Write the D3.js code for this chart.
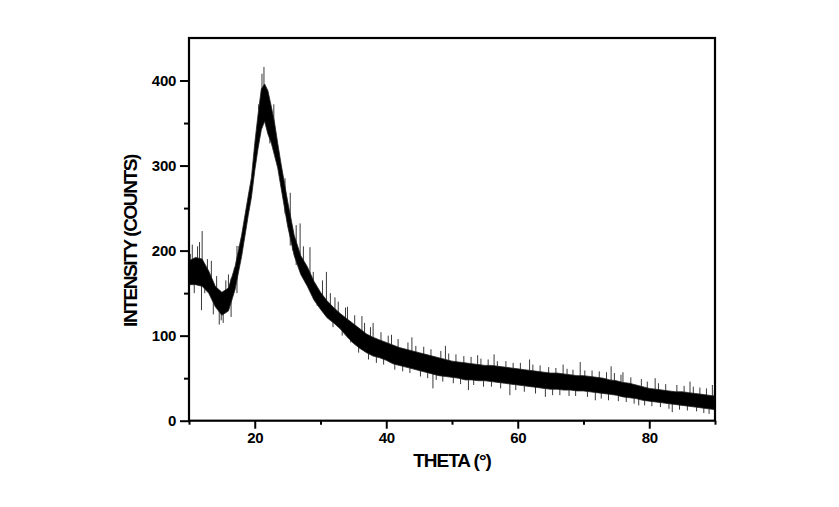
<!DOCTYPE html>
<html lang="en">
<head>
<meta charset="UTF-8">
<title>Intensity vs theta</title>
<script src="https://d3js.org/d3.v7.min.js"></script>
<style>
  body { margin: 0; background: #fff; }
  text { font-family: "Liberation Sans", Arial, sans-serif; font-weight: bold; fill: #000; }
</style>
</head>
<body>
<div id="chart"></div>
<script>
// band of the noisy trace (low / high edge of the dense part)
var theta    = [10, 11, 12, 13, 14, 15, 16, 17, 18, 19, 19.5, 20, 20.5, 21, 21.5, 22, 22.5, 23, 23.5, 24, 25, 26, 27, 28, 29, 30,
                31, 32, 33, 34, 35, 36, 37, 38, 39, 40, 41, 42, 43, 44, 45, 46, 47, 48, 49, 50, 51, 52, 53, 54, 55, 56, 57, 58, 59, 60,
                61, 62, 63, 64, 65, 66, 67, 68, 69, 70, 71, 72, 73, 74, 75, 76, 77, 78, 79, 80, 81, 82, 83, 84, 85, 86, 87, 88, 89, 90];
var bandLow  = [160, 160, 158, 150, 134, 124, 129, 154, 193, 241, 263, 294, 320, 342, 352, 337, 327, 312, 297, 274, 229, 194, 172, 158, 142, 131,
                121, 115, 108, 99, 91, 85, 80, 76, 74, 71, 67, 65, 63, 61, 59, 57, 55, 53, 52, 51, 50, 48, 48, 47, 47, 46, 45, 44, 43, 42,
                41, 40, 39, 38, 37, 37, 36, 36, 35, 35, 34, 33, 32, 31, 30, 28, 27, 26, 24, 23, 22, 21, 20, 19, 18, 17, 16, 15, 14, 13];
var bandHigh = [188, 192, 190, 176, 158, 151, 156, 181, 218, 264, 286, 326, 360, 390, 396, 388, 370, 351, 326, 302, 258, 218, 194, 181, 164, 151,
                141, 133, 126, 120, 114, 108, 102, 98, 95, 92, 89, 86, 84, 82, 80, 78, 76, 74, 72, 70, 69, 68, 67, 66, 65, 65, 64, 63, 62, 61,
                60, 59, 58, 57, 56, 56, 55, 54, 53, 53, 52, 51, 50, 48, 47, 45, 44, 42, 40, 38, 37, 36, 35, 34, 34, 33, 32, 31, 30, 29];

// single spikes standing out of the band
var spikeTheta = [10.5, 11.3, 12.0, 11.9, 13.4, 14.6, 15.2, 16.0, 17.6, 20.6, 21.4, 21.1, 22.3, 22.9, 24.6, 26.9, 28.4, 30.9, 32.2,
                  34.1, 36.3, 38.0, 40.8, 43.9, 47.1, 49.0, 52.5, 53.9, 56.4, 58.8, 61.8, 64.2, 66.9, 69.5, 71.8, 74.2, 76.0, 78.4,
                  80.9, 83.5, 86.2, 88.3, 89.6,
                  10.2, 10.8, 11.6, 12.4, 12.8, 13.7, 14.2, 14.9, 15.6, 16.4, 16.9, 17.3,
                  25.4, 25.8, 26.3, 27.4, 27.8, 28.9, 29.5, 30.3, 31.5, 31.9, 32.7, 33.3, 33.8, 34.6, 35.2, 35.8, 36.7, 37.3, 37.6,
                  38.5, 39.2, 39.6, 40.3, 41.3, 41.8, 42.5, 43.3, 43.6, 44.5, 45.2, 45.7, 46.3, 46.8, 47.6, 48.3, 48.6, 49.5, 50.2,
                  50.6, 51.3, 51.8, 52.9, 53.3, 54.4, 54.8, 55.5, 56.0, 56.9, 57.4, 58.2, 59.3, 59.7, 60.4, 61.0, 62.3, 62.7, 63.4,
                  64.7, 65.3, 65.8, 66.4, 67.5, 67.8, 68.4, 68.8, 70.2, 70.6, 71.3, 72.4, 72.7, 73.5, 73.8, 74.7, 75.3, 75.7, 76.5,
                  77.2, 77.7, 78.8, 79.3, 79.7, 80.4, 81.4, 81.7, 82.5, 83.0, 84.2, 84.6, 85.3, 85.8, 86.7, 87.2, 87.7, 88.7, 89.1, 89.9];
var spikeValue = [207, 205, 223, 130, 188, 113, 115, 172, 203, 372, 416, 408, 326, 372, 285, 232, 204, 175, 145,
                  134, 123, 115, 101, 98, 38, 88, 36, 77, 78, 30, 72, 28, 66, 69, 24, 64, 57, 18,
                  50, 10, 46, 9, 42,
                  196, 150, 210, 150, 190, 125, 170, 118, 165, 122, 180, 150,
                  268, 200, 230, 205, 162, 175, 135, 165, 150, 110, 140, 100, 133, 92, 124, 80, 115, 72, 110,
                  68, 104, 66, 100, 60, 96, 58, 92, 56, 88, 52, 87, 50, 84, 48, 82, 46, 79, 44,
                  78, 43, 76, 75, 42, 73, 40, 72, 40, 70, 38, 70, 68, 36, 68, 34, 66, 32, 65,
                  63, 30, 62, 30, 61, 29, 60, 29, 59, 28, 59, 58, 26, 57, 24, 56, 23, 54, 22,
                  51, 20, 49, 18, 46, 17, 44, 16, 43, 14, 42, 13, 41, 12, 40, 11, 39, 38, 8, 36];

var xTicks = [20, 40, 60, 80];
var xMinor = [10, 30, 50, 70, 90];
var yTicks = [0, 100, 200, 300, 400];
var yMinor = [50, 150, 250, 350];

var width = 839, height = 507;
var plotLeft = 189, plotRight = 715, plotTop = 38, plotBottom = 420.7;

var svg = d3.select("#chart").append("svg")
    .attr("width", width)
    .attr("height", height);

var x = d3.scaleLinear().domain([10, 90]).range([plotLeft, plotRight]);
var y = d3.scaleLinear().domain([0, 450]).range([plotBottom, plotTop]);

var rows = theta.map(function(t, i) { return {t: t, lo: bandLow[i], hi: bandHigh[i]}; });

// clip to the frame
svg.append("clipPath").attr("id", "plotClip")
  .append("rect").attr("x", plotLeft).attr("y", plotTop)
  .attr("width", plotRight - plotLeft).attr("height", plotBottom - plotTop);

var plot = svg.append("g").attr("clip-path", "url(#plotClip)");

// spikes, drawn from the middle of the band
var bis = d3.bisector(function(d) { return d.t; }).left;
spikeTheta.forEach(function(t, i) {
  var j = Math.min(bis(rows, t), rows.length - 1);
  var mid = (rows[j].lo + rows[j].hi) / 2;
  plot.append("line")
    .attr("x1", x(t)).attr("x2", x(t))
    .attr("y1", y(mid)).attr("y2", y(spikeValue[i]))
    .attr("stroke", "#3a3a3a")
    .attr("stroke-width", 1);
});

plot.append("path")
  .datum(rows)
  .attr("d", d3.area()
    .x(function(d) { return x(d.t); })
    .y0(function(d) { return y(d.lo); })
    .y1(function(d) { return y(d.hi); }))
  .attr("fill", "#000")
  .attr("stroke", "#222")
  .attr("stroke-width", 0.8);

// frame
svg.append("rect")
  .attr("x", plotLeft).attr("y", plotTop)
  .attr("width", plotRight - plotLeft).attr("height", plotBottom - plotTop)
  .attr("fill", "none").attr("stroke", "#000").attr("stroke-width", 2.2);

// x axis
svg.append("g").attr("transform", "translate(0," + plotBottom + ")")
  .call(d3.axisBottom(x).tickValues(xTicks).tickSize(8).tickPadding(4).tickFormat(d3.format("d")));
svg.append("g").attr("transform", "translate(0," + plotBottom + ")")
  .call(d3.axisBottom(x).tickValues(xMinor).tickSize(4).tickFormat(""));

// y axis
svg.append("g").attr("transform", "translate(" + plotLeft + ",0)")
  .call(d3.axisLeft(y).tickValues(yTicks).tickSize(9).tickPadding(4).tickFormat(d3.format("d")));
svg.append("g").attr("transform", "translate(" + plotLeft + ",0)")
  .call(d3.axisLeft(y).tickValues(yMinor).tickSize(5).tickFormat(""));

svg.selectAll(".domain").remove();
svg.selectAll(".tick line").attr("stroke", "#000").attr("stroke-width", 2);
svg.selectAll(".tick text")
  .attr("font-size", 15)
  .attr("font-family", "'Liberation Sans', Arial, sans-serif")
  .attr("font-weight", "bold")
  .attr("letter-spacing", "-0.3px")
  .attr("fill", "#000");

// axis titles
svg.append("text")
  .attr("x", (plotLeft + plotRight) / 2)
  .attr("y", 466.5)
  .attr("text-anchor", "middle")
  .attr("font-size", 19)
  .attr("letter-spacing", "-1px")
  .text("THETA (°)");

svg.append("text")
  .attr("transform", "translate(137,241) rotate(-90)")
  .attr("text-anchor", "middle")
  .attr("font-size", 19)
  .attr("letter-spacing", "-1.4px")
  .text("INTENSITY (COUNTS)");
</script>
</body>
</html>
